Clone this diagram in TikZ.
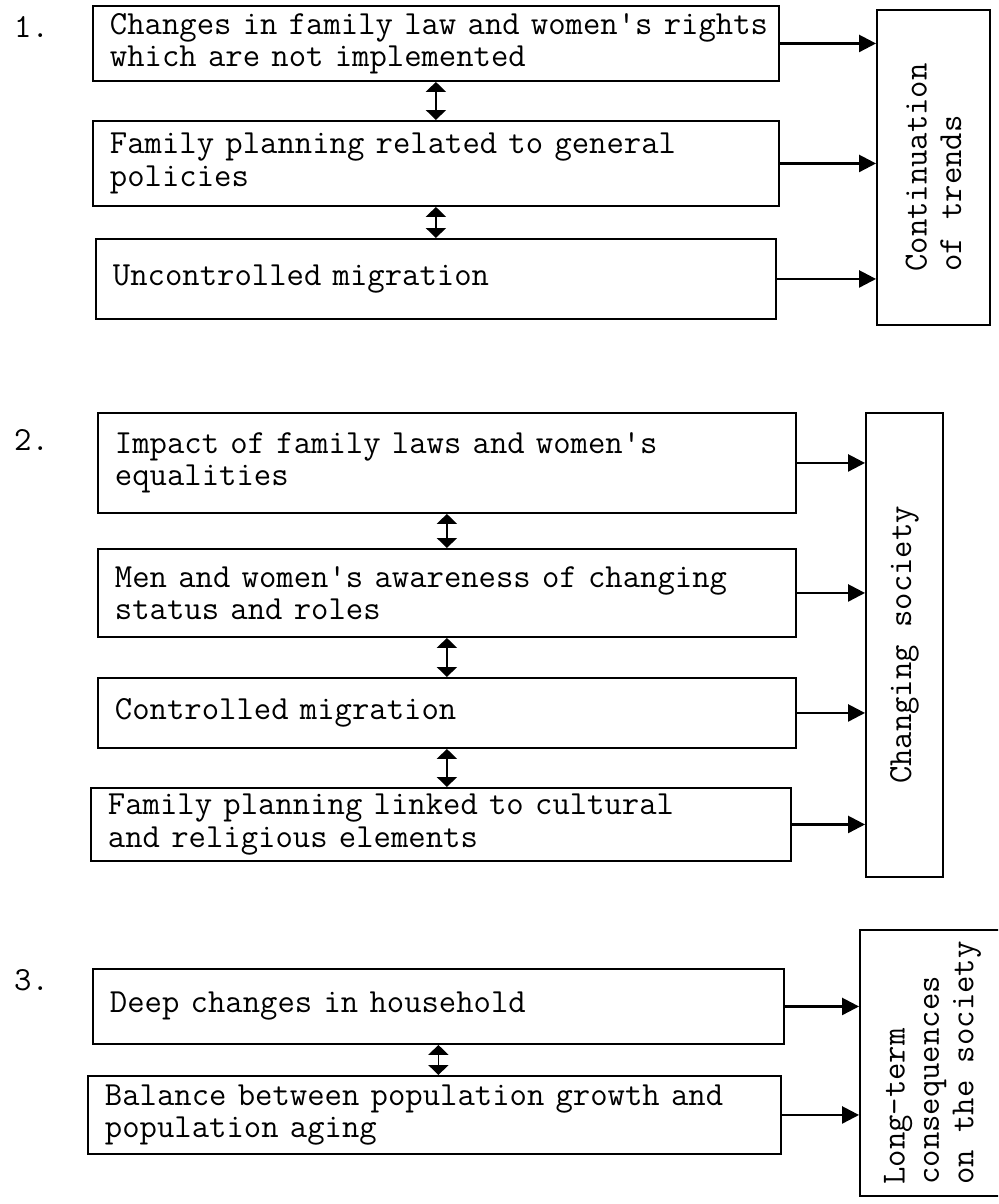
\documentclass[tikz,border=0pt]{standalone}
\usepackage{fontspec}
\usetikzlibrary{arrows.meta}
\newcommand{\typewriter}[1]{\ttfamily\fontsize{19.2}{#1}\selectfont}
\tikzset{
	typed/.style = {font = \typewriter{18.4}},
	item/.style = {typed, draw, line width = 1.1pt, anchor = north west, inner xsep = 0.34cm, align = left},
	goal/.style = {draw, line width = 1.1pt, rotate = 90, align = left, font = \typewriter{19.6}},
	num/.style = {typed, anchor = west},
	arr/.style = {line width = 1.4pt, -{Triangle[length = 0.34cm, width = 0.34cm]}},
	dbl/.style = {line width = 1pt, {Triangle[length = 0.2cm, width = 0.4cm]}-{Triangle[length = 0.2cm, width = 0.4cm]}}
}
\begin{document}
\begin{tikzpicture} [x = 0.02cm, y = -0.02cm]
	\clip (0,0) rectangle (998,1204);
	% 1. continuation of trends
	\node [num] (one) at (8,27) {1.};
	\node [item, text width = 13.04cm, minimum height = 1.5cm] (law) at (92,5) {\mbox{Changes in family law and women's rights}\\which are not implemented};
	\node [item, text width = 13.04cm, minimum height = 1.7cm] (plan) at (92,120) {Family planning related to general\\policies};
	\node [item, text width = 12.92cm, minimum height = 1.6cm] (umig) at (95,238) {Uncontrolled migration};
	\node [goal, minimum width = 6.3cm, minimum height = 2.26cm] (trends) at (933.5,167.5) {Continuation\\of trends};
	\draw [dbl] (law.south) -- (law.south |- plan.north);
	\draw [dbl] (plan.south) -- (plan.south |- umig.north);
	\draw [arr] (law.east) -- (law.east -| trends.north);
	\draw [arr] (plan.east) -- (plan.east -| trends.north);
	\draw [arr] (umig.east) -- (umig.east -| trends.north);
	% 2. changing society
	\node [num] (two) at (8,440) {2.};
	\node [item, text width = 13.28cm, minimum height = 2cm] (impact) at (97,412) {Impact of family laws and women's\\equalities};
	\node [item, text width = 13.28cm, minimum height = 1.76cm] (aware) at (97,548) {Men and women's awareness of changing\\status and roles};
	\node [item, text width = 13.28cm, minimum height = 1.4cm] (cmig) at (97,677) {Controlled migration};
	\node [item, text width = 13.32cm, minimum height = 1.46cm] (cult) at (90,787) {Family planning linked to cultural\\and religious elements};
	\node [goal, minimum width = 9.28cm, minimum height = 1.54cm] (society) at (904.5,645) {Changing society};
	\draw [dbl] (impact.south) -- (impact.south |- aware.north);
	\draw [dbl] (aware.south) -- (aware.south |- cmig.north);
	\draw [dbl] (cmig.south) -- (cmig.south |- cult.north);
	\draw [arr] (impact.east) -- (impact.east -| society.north);
	\draw [arr] (aware.east) -- (aware.east -| society.north);
	\draw [arr] (cmig.east) -- (cmig.east -| society.north);
	\draw [arr] (cult.east) -- (cult.east -| society.north);
	% 3. long-term consequences
	\node [num] (three) at (8,980) {3.};
	\node [item, text width = 13.14cm, minimum height = 1.5cm] (house) at (92,968) {Deep changes in household};
	\node [item, text width = 13.18cm, minimum height = 1.56cm] (bal) at (87,1075) {Balance between population growth and\\population aging};
	\node [goal, minimum width = 5.32cm, minimum height = 2.9cm] (longterm) at (932.5,1063) {Long-term\\consequences\\on the society};
	\draw [dbl] (house.south) -- (house.south |- bal.north);
	\draw [arr] (house.east) -- (house.east -| longterm.north);
	\draw [arr] (bal.east) -- (bal.east -| longterm.north);
\end{tikzpicture}
\end{document}
